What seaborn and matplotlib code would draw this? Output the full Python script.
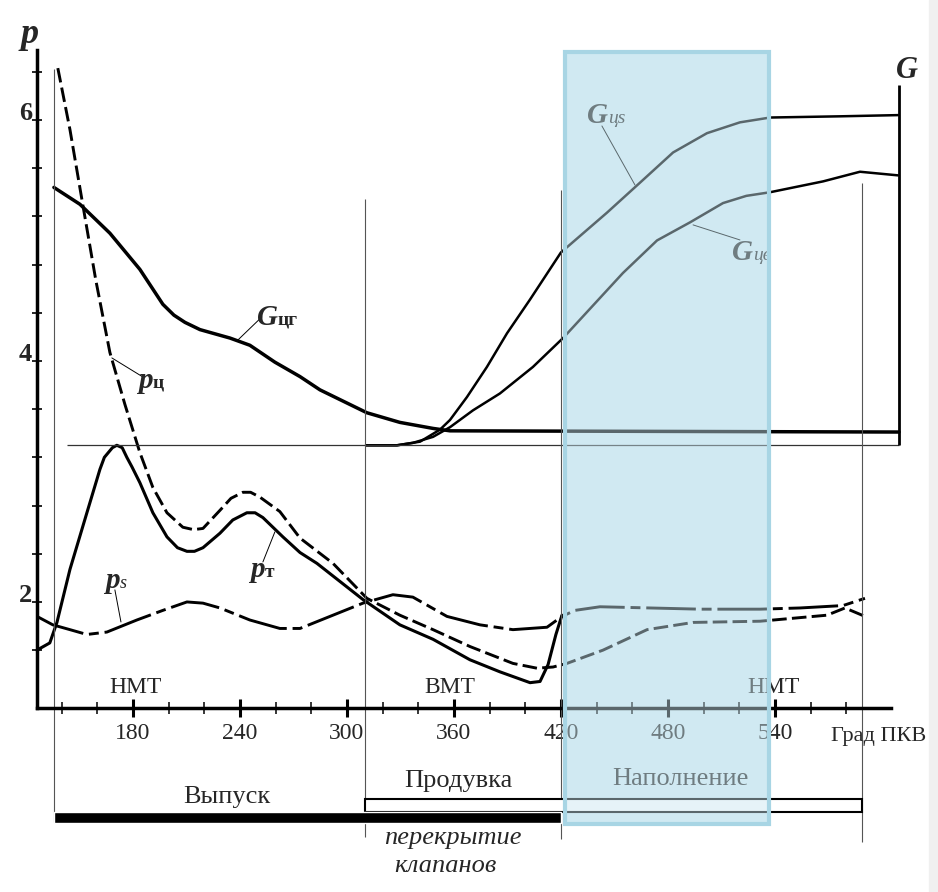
import matplotlib
matplotlib.use('Agg')
import matplotlib.pyplot as plt
import seaborn as sns
from matplotlib.patches import Rectangle

# --- values (crank angle in deg, pressure / flow in axis units) ---
pc_deg = [137.9, 144.7, 151.4, 159.2, 167.1, 175.5, 183.9, 191.2, 199.1, 208.0, 214.0, 219.3,
          228.8, 235.0, 241.7, 246.0, 251.2, 262.4, 273.7, 292.2, 311.2, 329.7, 348.3, 369.0,
          393.1, 406.6, 415.6, 423.4, 443.6, 468.3, 494.1, 531.7, 569.2, 579.3, 590.5]
pc_val = [6.43, 5.92, 5.34, 4.67, 4.07, 3.64, 3.24, 2.95, 2.74, 2.62, 2.60, 2.61,
          2.76, 2.86, 2.91, 2.91, 2.87, 2.75, 2.53, 2.32, 2.03, 1.89, 1.77, 1.63,
          1.49, 1.45, 1.46, 1.49, 1.60, 1.77, 1.83, 1.84, 1.89, 1.95, 1.88]

pt_deg = [126.2, 133.4, 137.4, 144.7, 154.2, 161.5, 164.0, 168.5, 171.0, 174.0, 176.6, 179.5,
          183.9, 191.2, 199.1, 205.0, 210.3, 214.5, 219.3, 228.8, 236.0, 243.9, 248.5, 252.9,
          264.1, 273.7, 283.2, 309.0, 329.7, 348.3, 369.0, 385.8, 402.7, 408.3, 412.8, 417.2,
          420.6]
pt_val = [1.60, 1.66, 1.83, 2.27, 2.74, 3.10, 3.20, 3.28, 3.30, 3.28, 3.20, 3.12,
          2.99, 2.74, 2.54, 2.45, 2.42, 2.42, 2.45, 2.57, 2.68, 2.74, 2.74, 2.70,
          2.54, 2.41, 2.32, 2.02, 1.81, 1.69, 1.52, 1.42, 1.33, 1.34, 1.48, 1.73,
          1.89]

ps_deg = [126.2, 135.1, 144.7, 154.2, 165.4, 182.2, 196.8, 210.3, 219.3, 228.8, 245.6, 262.4,
          273.7, 290.5, 309.0, 325.8, 337.0, 356.1, 374.6, 393.1, 412.2, 420.6, 427.9, 441.9,
          469.9, 498.0, 531.7, 554.1, 578.2, 590.5]
ps_val = [1.88, 1.81, 1.77, 1.73, 1.75, 1.85, 1.93, 2.00, 1.99, 1.95, 1.85, 1.78,
          1.78, 1.88, 1.99, 2.06, 2.04, 1.88, 1.81, 1.77, 1.79, 1.88, 1.93, 1.96,
          1.95, 1.94, 1.94, 1.95, 1.97, 2.03]

gcg_deg = [135.7, 150.3, 167.1, 183.9, 196.8, 203.0, 209.2, 217.6, 234.4, 245.6, 259.6, 273.7,
           284.9, 311.2, 329.7, 348.3, 357.8, 609.6]
gcg_val = [5.44, 5.30, 5.06, 4.76, 4.47, 4.38, 4.32, 4.26, 4.19, 4.13, 3.99, 3.87,
           3.76, 3.57, 3.49, 3.44, 3.42, 3.41]

gcs_deg = [310.7, 328.1, 341.0, 352.2, 357.8, 367.3, 378.5, 389.8, 402.7, 420.0, 445.8, 464.4,
           482.9, 501.9, 520.4, 537.3, 576.5, 609.0]
gcs_val = [3.30, 3.30, 3.33, 3.43, 3.51, 3.70, 3.95, 4.23, 4.51, 4.90, 5.23, 5.48,
           5.73, 5.89, 5.98, 6.02, 6.03, 6.04]

gcv_deg = [310.7, 328.1, 337.0, 348.3, 357.8, 370.7, 385.8, 404.3, 421.2, 432.4, 454.8, 473.9,
           492.4, 510.9, 524.0, 537.3, 567.0, 587.7, 609.0]
gcv_val = [3.30, 3.30, 3.32, 3.37, 3.45, 3.59, 3.73, 3.95, 4.19, 4.37, 4.73, 5.00,
           5.15, 5.31, 5.37, 5.40, 5.49, 5.57, 5.54]

g_base = 3.30          # zero level of the G curves
g_axis_top = 6.29

x_major = [180, 240, 300, 360, 420, 480, 540]
x_minor = [140, 160, 200, 220, 260, 280, 320, 340, 380, 400, 440, 460, 500, 520, 560, 580]
y_ticks = [1.6, 2.0, 2.4, 2.8, 3.2, 3.6, 4.0, 4.4, 4.8, 5.2, 5.6, 6.0, 6.4]
y_labels = ['', '2', '', '', '', '', '4', '', '', '', '', '6', '']

# valve events
marks_deg = [135.7, 310.0, 420.0, 589.0]
marks_top = [6.42, 5.34, 5.42, 5.48]
marks_bottom = [0.17, 0.05, 0.03, 0.01]
exhaust_open, exhaust_close = 135.7, 420.0
intake_open, intake_close = 310.0, 589.0
tdc_labels = ['НМТ', 'ВМТ', 'НМТ']
tdc_deg = [181.7, 357.8, 539.0]

sns.set_style('white')
plt.rcParams['font.family'] = ['Liberation Serif', 'DejaVu Serif']

fig = plt.figure(figsize=(9.38, 8.92), dpi=100)
fig.patches.append(Rectangle((929 / 938, 0), 9 / 938, 1, transform=fig.transFigure,
                             color='#f0f0f0', zorder=0))
ax = fig.add_axes([0.0394, 0.2063, 0.9105, 0.7376])
ax.set_xlim(126.2, 605.1)
ax.set_ylim(1.12, 6.58)
ax.patch.set_alpha(0)

# curves
sns.lineplot(x=pc_deg, y=pc_val, ax=ax, color='black', lw=2.1, linestyle=(0, (5, 1.8)),
             estimator=None, sort=False)
sns.lineplot(x=pt_deg, y=pt_val, ax=ax, color='black', lw=2.2, estimator=None, sort=False)
sns.lineplot(x=ps_deg, y=ps_val, ax=ax, color='black', lw=2.1,
             linestyle=(0, (17, 2, 3.4, 2)), estimator=None, sort=False)
sns.lineplot(x=gcg_deg, y=gcg_val, ax=ax, color='black', lw=2.5, estimator=None, sort=False)
sns.lineplot(x=gcs_deg, y=gcs_val, ax=ax, color='black', lw=1.8, estimator=None, sort=False)
sns.lineplot(x=gcv_deg, y=gcv_val, ax=ax, color='black', lw=1.8, estimator=None, sort=False)
for ln in ax.lines:
    ln.set_clip_on(False)
    ln.set_solid_joinstyle('round')
    ln.set_dash_joinstyle('round')

# G axis and its zero line
ax.hlines(g_base, 143, 609.6, color='#333333', lw=0.9, clip_on=False)
ax.vlines(609.6, g_base, g_axis_top, color='black', lw=2, clip_on=False)
ax.text(614, 6.41, 'G', fontsize=22, fontweight='bold', style='italic', ha='center', va='center')

# thin marker lines
ax.vlines(marks_deg, marks_bottom, marks_top, color='#555555', lw=0.8, clip_on=False)

# valve timing bars
ax.barh(0.311, intake_close - intake_open, left=intake_open, height=0.108,
        facecolor='white', edgecolor='black', lw=1.5, clip_on=False, zorder=3)
ax.barh(0.213, exhaust_close - exhaust_open, left=exhaust_open, height=0.09,
        color='black', clip_on=False, zorder=3)
ax.text(232.7, 0.382, 'Выпуск', fontsize=19, ha='center', va='center')
ax.text(362.3, 0.514, 'Продувка', fontsize=19, ha='center', va='center')
ax.text(486.8, 0.531, 'Наполнение', fontsize=19, ha='center', va='center')
ax.text(359.5, 0.041, 'перекрытие', fontsize=19, style='italic', ha='center', va='center')
ax.text(355.0, -0.191, 'клапанов', fontsize=19, style='italic', ha='center', va='center')

for lbl, d in zip(tdc_labels, tdc_deg):
    ax.text(d, 1.286, lbl, fontsize=17, ha='center', va='center')
ax.text(598.4, 0.88, 'Град ПКВ', fontsize=16, ha='center', va='center')


def curve_label(x, y, main, sub, leader, big=21, small=14, sub_bold=True):
    ax.text(x, y, main, fontsize=big, fontweight='bold', style='italic',
            ha='right', va='baseline')
    ax.text(x, y, sub, fontsize=small, fontweight='bold' if sub_bold else 'normal',
            style='normal' if sub_bold else 'italic', ha='left', va='baseline')
    ax.plot(leader[0], leader[1], color='black', lw=0.7, clip_on=False)


curve_label(261.3, 4.30, 'G', 'цг', ([238.9, 252.3], [4.174, 4.365]))
curve_label(191.2, 3.776, 'p', 'ц', ([168.2, 185.6], [4.025, 3.867]))
curve_label(172.7, 2.116, 'p', 's', ([169.9, 173.3], [2.100, 1.834]), small=13, sub_bold=False)
curve_label(254.0, 2.207, 'p', 'т', ([252.9, 259.6], [2.332, 2.581]))
curve_label(446.4, 5.975, 'G', 'цs', ([443.0, 461.5], [5.95, 5.461]), small=14, sub_bold=False)
curve_label(527.7, 4.838, 'G', 'цв', ([494.1, 520.4], [5.129, 5.004]), small=14, sub_bold=False)

# axes
sns.despine(ax=ax)
for side in ['left', 'bottom']:
    ax.spines[side].set_linewidth(2.5)
    ax.spines[side].set_color('black')
ax.set_xticks(x_major)
ax.set_xticks(x_minor, minor=True)
ax.tick_params(axis='x', which='major', direction='inout', length=13, width=2.2,
               labelsize=17, pad=4, color='black', bottom=True)
ax.tick_params(axis='x', which='minor', direction='inout', length=9, width=1.1,
               color='black', bottom=True)
ax.set_yticks(y_ticks)
ax.set_yticklabels(y_labels)
ax.tick_params(axis='y', direction='inout', length=7, width=1.2, pad=0, labelsize=19,
               color='black', left=True)
for lbl in ax.get_yticklabels():
    lbl.set_fontweight('bold')
    lbl.set_va('baseline')
ax.text(122.2, 6.705, 'p', fontsize=26, fontweight='bold', style='italic',
        ha='center', va='center')

# highlighted filling phase (tinted band over the curves)
band_x0, band_x1, band_y0, band_y1 = 422.3, 536.7, 0.158, 6.564
ax.add_patch(Rectangle((band_x0, band_y0), band_x1 - band_x0, band_y1 - band_y0,
                       facecolor='#d6edf5', edgecolor='none', zorder=0.5, clip_on=False))
ax.add_patch(Rectangle((band_x0, band_y0), band_x1 - band_x0, band_y1 - band_y0,
                       facecolor=(0.79, 0.90, 0.94, 0.45), edgecolor='#a8d5e4', lw=3,
                       zorder=6, clip_on=False))

fig.savefig('out.png', dpi=100)
